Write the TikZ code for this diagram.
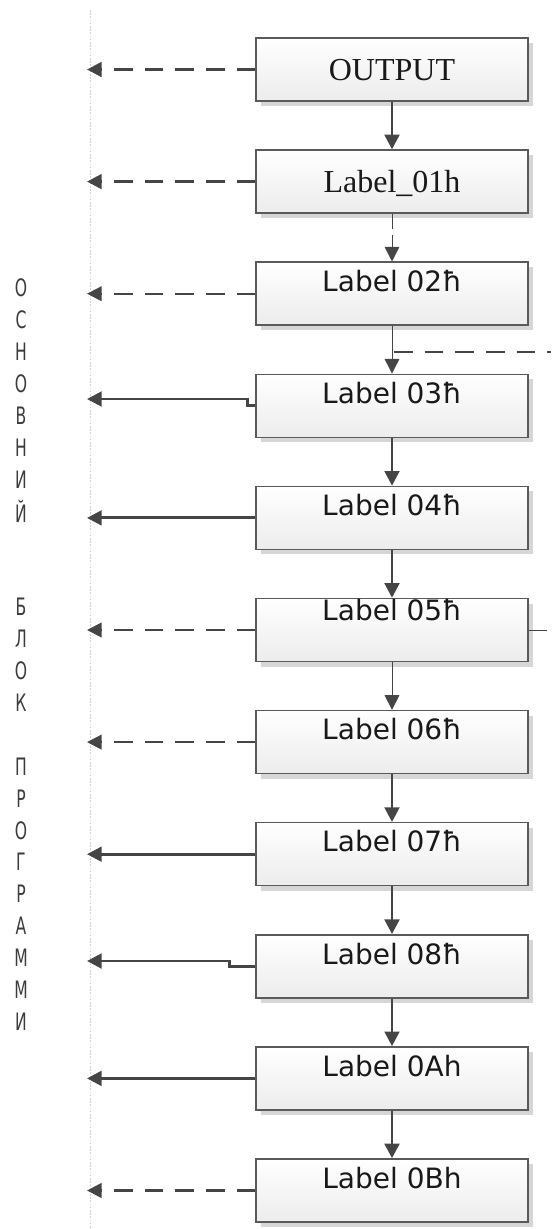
\documentclass[tikz,border=0pt]{standalone}
\usepackage{fontspec}
\usepackage{graphicx}
\setmainfont{DejaVu Sans}
\newfontfamily\serifx{Liberation Serif}
\usetikzlibrary{arrows.meta,shadows,calc}
\definecolor{arrowc}{HTML}{454545}
\definecolor{boxborder}{HTML}{5A5A5A}
\definecolor{boxbottom}{HTML}{ECECEC}
\definecolor{vtext}{HTML}{3C3C3C}
\definecolor{dotc}{HTML}{CFCFCF}
\begin{document}
\begin{tikzpicture}[x=0.75pt,y=-0.75pt,
  box/.style={draw=boxborder, line width=1.1pt, minimum width=204pt, minimum height=47.25pt,
    inner sep=0pt, top color=white, bottom color=boxbottom,
    drop shadow={shadow xshift=3.75pt, shadow yshift=-3.75pt, fill=black!16, opacity=1}},
  lbl/.style={font=\fontsize{21pt}{24pt}\selectfont, inner sep=0pt, anchor=base, text=black!90},
  serlbl/.style={font=\serifx\fontsize{24pt}{28pt}\selectfont, inner sep=0pt, anchor=base, text=black!90},
  vlet/.style={font=\fontsize{18pt}{20pt}\selectfont, inner sep=0pt, text=vtext},
  tipx/.style={-{Triangle[length=11pt,width=11pt]}},
  solidarr/.style={draw=arrowc, line width=2.2pt, tipx},
  thinarr/.style={draw=arrowc, line width=0.75pt, tipx},
  thindash/.style={draw=arrowc, line width=0.75pt, dash pattern=on 11pt off 5pt, tipx},
  bigdash/.style={draw=arrowc, line width=2.2pt, dash pattern=on 14pt off 9pt, tipx},
  middash/.style={draw=arrowc, line width=1.5pt, dash pattern=on 14pt off 9pt, tipx},
  hdash/.style={draw=arrowc, line width=2pt, dash pattern=on 14pt off 9pt},
  stub/.style={draw=arrowc, line width=0.75pt},
  dotline/.style={draw=dotc, line width=0.75pt, dash pattern=on 1.2pt off 1.2pt}]
\useasboundingbox (0,0) rectangle (551,1229);

% dotted separator
\coordinate (dtop) at (90,10);
\coordinate (dbot) at (90,1229);
\draw[dotline] (dtop) -- (dbot);

% boxes
\foreach \i/\cy in {0/69.5,1/181.6,2/293.7,3/405.8,4/517.9,5/630,6/742.1,7/854.2,8/966.3,9/1078.4,10/1190.5}{
  \node[box] (b\i) at (392,\cy) {};
}

% texts
\node[serlbl] (t0) at ($(b0.center)+(0,10.5)$) {OUTPUT};
\node[serlbl] (t1) at ($(b1.center)+(0,10.5)$) {Label\_01h};
\node[lbl] (t2) at ($(b2.north)+(0,30)$) {Label 02ħ};
\node[lbl] (t3) at ($(b3.north)+(0,30)$) {Label 03ħ};
\node[lbl] (t4) at ($(b4.north)+(0,30)$) {Label 04ħ};
\node[lbl] (t5) at ($(b5.north)+(0,23)$) {Label 05ħ};
\node[lbl] (t6) at ($(b6.north)+(0,30)$) {Label 06ħ};
\node[lbl] (t7) at ($(b7.north)+(0,30)$) {Label 07ħ};
\node[lbl] (t8) at ($(b8.north)+(0,30)$) {Label 08ħ};
\node[lbl] (t9) at ($(b9.north)+(0,30)$) {Label 0Ah};
\node[lbl] (t10) at ($(b10.north)+(0,30)$) {Label 0Bh};

% vertical connectors
\draw[solidarr] (b0.south) -- (b1.north);
\draw[thindash] (b1.south) -- (b2.north);
\draw[thinarr] (b2.south) -- (b3.north);
\draw[solidarr] (b3.south) -- (b4.north);
\draw[solidarr] (b4.south) -- (b5.north);
\draw[thinarr] (b5.south) -- (b6.north);
\draw[solidarr] (b6.south) -- (b7.north);
\draw[solidarr] (b7.south) -- (b8.north);
\draw[solidarr] (b8.south) -- (b9.north);
\draw[solidarr] (b9.south) -- (b10.north);

% side branch between 02 and 03
\coordinate (j23) at (394,352);
\coordinate (r23) at (551,352);
\draw[hdash] (j23) -- (r23);
% stub right of 05
\coordinate (r5) at (547,630);
\draw[stub] (b5.east) -- (r5);

% left arrows
\coordinate (L0) at (87,69.5);
\coordinate (L1) at (87,181.6);
\coordinate (L2) at (87,293.7);
\coordinate (L3) at (87,399);
\coordinate (L4) at (87,517.9);
\coordinate (L5) at (87,630);
\coordinate (L6) at (87,742.1);
\coordinate (L7) at (87,854.2);
\coordinate (L8) at (87,961);
\coordinate (L9) at (87,1078.4);
\coordinate (L10) at (87,1190.5);
\draw[bigdash] (b0.west) -- (L0);
\draw[bigdash] (b1.west) -- (L1);
\draw[middash] (b2.west) -- (L2);
\draw[solidarr] (b3.west) -- ++(-8,0) |- (L3);
\draw[solidarr] (b4.west) -- (L4);
\draw[middash] (b5.west) -- (L5);
\draw[middash] (b6.west) -- (L6);
\draw[solidarr] (b7.west) -- (L7);
\draw[solidarr] (b8.west) -- ++(-26,0) |- (L8);
\draw[solidarr] (b9.west) -- (L9);
\draw[bigdash, line width=1.9pt] (b10.west) -- (L10);

% vertical text
\foreach \k/\ch [count=\n] in {0/О,1/С,2/Н,3/О,4/В,5/Н,6/И,7/Й,10/Б,11/Л,12/О,13/К,15/П,16/Р,17/О,18/Г,19/Р,20/А,21/М,22/М,23/И}{
  \node[vlet] (v\n) at (21,{288+31.9*\k}) {\scalebox{0.65}[1]{\ch}};
}
\end{tikzpicture}
\end{document}
